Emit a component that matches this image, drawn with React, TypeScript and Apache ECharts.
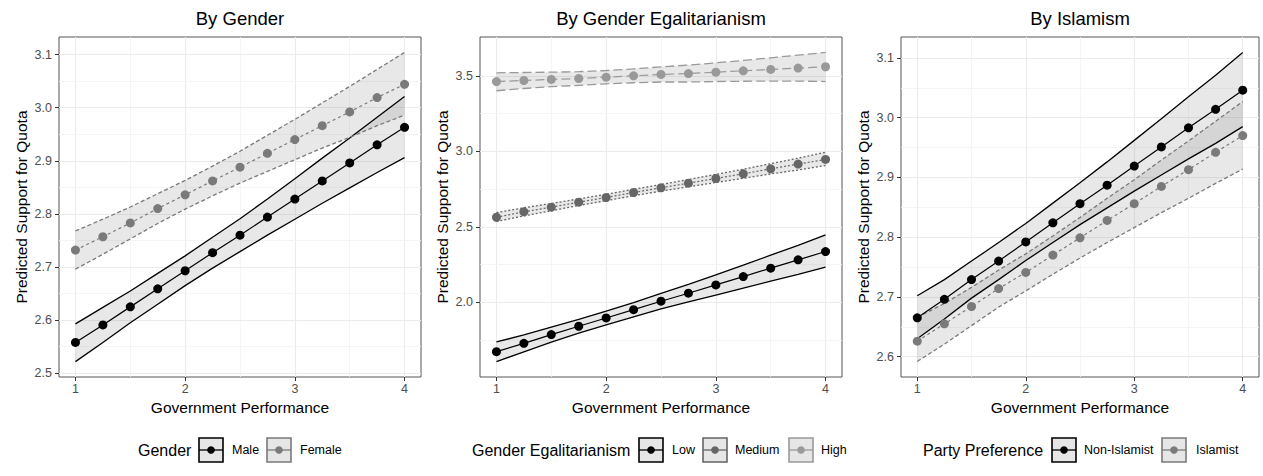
import React, { useEffect, useRef } from "react";
import * as echarts from "echarts";

// ---------- data ----------
const X = [1, 1.25, 1.5, 1.75, 2, 2.25, 2.5, 2.75, 3, 3.25, 3.5, 3.75, 4];
const xTicks = [1, 2, 3, 4];
const xMinor = [1.5, 2.5, 3.5];

// Panel 1: By Gender
const maleMean = [2.558, 2.591, 2.625, 2.659, 2.693, 2.727, 2.76, 2.794, 2.828, 2.862, 2.896, 2.93, 2.963];
const maleUpper = [2.593, 2.624, 2.655, 2.688, 2.721, 2.756, 2.791, 2.828, 2.866, 2.905, 2.943, 2.982, 3.021];
const maleLower = [2.522, 2.558, 2.595, 2.63, 2.665, 2.698, 2.729, 2.76, 2.79, 2.82, 2.849, 2.878, 2.906];
const femaleMean = [2.732, 2.757, 2.783, 2.81, 2.836, 2.862, 2.888, 2.914, 2.94, 2.966, 2.992, 3.019, 3.044];
const femaleUpper = [2.768, 2.79, 2.813, 2.838, 2.863, 2.89, 2.918, 2.948, 2.978, 3.009, 3.04, 3.072, 3.104];
const femaleLower = [2.696, 2.724, 2.753, 2.782, 2.809, 2.834, 2.858, 2.88, 2.902, 2.924, 2.944, 2.966, 2.986];
const p1Ticks = [2.5, 2.6, 2.7, 2.8, 2.9, 3.0, 3.1];
const p1Minor = [2.55, 2.65, 2.75, 2.85, 2.95, 3.05];

// Panel 2: By Gender Egalitarianism
const lowMean = [1.673, 1.728, 1.786, 1.841, 1.896, 1.951, 2.007, 2.06, 2.115, 2.17, 2.226, 2.281, 2.336];
const lowUpper = [1.737, 1.784, 1.836, 1.887, 1.941, 1.998, 2.059, 2.118, 2.182, 2.246, 2.312, 2.377, 2.446];
const lowLower = [1.607, 1.672, 1.736, 1.795, 1.851, 1.904, 1.956, 2.002, 2.048, 2.094, 2.14, 2.185, 2.232];
const medMean = [2.563, 2.599, 2.63, 2.663, 2.694, 2.727, 2.758, 2.789, 2.82, 2.851, 2.884, 2.915, 2.946];
const medUpper = [2.594, 2.626, 2.654, 2.685, 2.715, 2.748, 2.78, 2.813, 2.847, 2.881, 2.918, 2.954, 2.994];
const medLower = [2.535, 2.572, 2.606, 2.641, 2.673, 2.706, 2.736, 2.765, 2.793, 2.821, 2.85, 2.876, 2.906];
const highMean = [3.462, 3.469, 3.476, 3.482, 3.491, 3.5, 3.509, 3.515, 3.524, 3.533, 3.542, 3.551, 3.56];
const highUpper = [3.52, 3.522, 3.524, 3.527, 3.535, 3.546, 3.559, 3.571, 3.586, 3.602, 3.619, 3.637, 3.655];
const highLower = [3.401, 3.416, 3.428, 3.437, 3.447, 3.454, 3.459, 3.459, 3.462, 3.464, 3.465, 3.465, 3.462];
const p2Ticks = [2.0, 2.5, 3.0, 3.5];
const p2Minor = [1.75, 2.25, 2.75, 3.25];

// Panel 3: By Islamism
const nonIslMean = [2.665, 2.696, 2.729, 2.76, 2.792, 2.824, 2.856, 2.887, 2.919, 2.951, 2.983, 3.014, 3.046];
const nonIslUpper = [2.702, 2.729, 2.76, 2.791, 2.823, 2.857, 2.891, 2.926, 2.962, 2.998, 3.035, 3.071, 3.109];
const nonIslLower = [2.63, 2.663, 2.698, 2.729, 2.761, 2.791, 2.821, 2.849, 2.877, 2.904, 2.931, 2.957, 2.985];
const islMean = [2.626, 2.655, 2.684, 2.714, 2.741, 2.77, 2.799, 2.828, 2.856, 2.885, 2.913, 2.942, 2.97];
const islUpper = [2.666, 2.689, 2.716, 2.745, 2.772, 2.802, 2.833, 2.865, 2.896, 2.929, 2.961, 2.994, 3.027];
const islLower = [2.592, 2.621, 2.652, 2.683, 2.71, 2.738, 2.765, 2.791, 2.816, 2.841, 2.865, 2.89, 2.914];
const p3Ticks = [2.6, 2.7, 2.8, 2.9, 3.0, 3.1];
const p3Minor = [2.65, 2.75, 2.85, 2.95, 3.05];

const titles = ["By Gender", "By Gender Egalitarianism", "By Islamism"];

// ---------- styling ----------
const FONT = "'Liberation Sans', Arial, Helvetica, sans-serif";
const BLACK = "#000000";
const GREY = "#7a7a7a";
const MEDGREY = "#666666";
const LIGHTGREY = "#999999";
const FILL = "rgba(128,128,128,0.18)";

const grids = [
  { left: 59, top: 37, width: 362, height: 340 },
  { left: 480, top: 37, width: 362, height: 340 },
  { left: 901, top: 37, width: 358, height: 340 },
];
const yRanges = [
  [2.493, 3.133],
  [1.505, 3.757],
  [2.566, 3.135],
];

function ribbon(g: number, lower: number[], upper: number[]) {
  return {
    type: "custom",
    xAxisIndex: g,
    yAxisIndex: g,
    z: 1,
    silent: true,
    data: [[X[0], lower[0]]],
    renderItem: (_p: any, api: any) => {
      const pts: number[][] = [];
      for (let i = 0; i < X.length; i++) pts.push(api.coord([X[i], upper[i]]));
      for (let i = X.length - 1; i >= 0; i--) pts.push(api.coord([X[i], lower[i]]));
      return { type: "polygon", shape: { points: pts }, style: { fill: FILL, stroke: "none" } };
    },
  };
}

function bound(g: number, vals: number[], color: string, type: any, width = 1.3) {
  return {
    type: "line",
    xAxisIndex: g,
    yAxisIndex: g,
    z: 2,
    silent: true,
    symbol: "none",
    data: X.map((x, i) => [x, vals[i]]),
    lineStyle: { color, width, type },
  };
}

function mean(g: number, vals: number[], color: string, type: any) {
  return {
    type: "line",
    xAxisIndex: g,
    yAxisIndex: g,
    z: 3,
    silent: true,
    symbol: "circle",
    symbolSize: 9,
    showSymbol: true,
    data: X.map((x, i) => [x, vals[i]]),
    itemStyle: { color },
    lineStyle: { color, width: 1.2, type },
  };
}

function gridLines(g: number, yMajor: number[], yMinor: number[]) {
  const major = { color: "#ebebeb", width: 1.1, type: "solid" };
  const minor = { color: "#f2f2f2", width: 0.8, type: "solid" };
  const data: any[] = [];
  xTicks.forEach((v) => data.push({ xAxis: v, lineStyle: major }));
  xMinor.forEach((v) => data.push({ xAxis: v, lineStyle: minor }));
  yMajor.forEach((v) => data.push({ yAxis: v, lineStyle: major }));
  yMinor.forEach((v) => data.push({ yAxis: v, lineStyle: minor }));
  return {
    type: "line",
    xAxisIndex: g,
    yAxisIndex: g,
    z: 0,
    silent: true,
    data: [],
    markLine: {
      z: 0,
      silent: true,
      symbol: ["none", "none"],
      label: { show: false },
      emphasis: { disabled: true },
      animation: false,
      data,
    },
  };
}

function legend(titleText: string, titleX: number, keys: { label: string; color: string; boxX: number; textX: number }[]) {
  const cy = 450;
  const els: any[] = [
    {
      type: "text",
      x: titleX,
      y: cy,
      style: { text: titleText, fill: "#000", font: `16px ${FONT}`, verticalAlign: "middle", textVerticalAlign: "middle", align: "left" },
    },
  ];
  keys.forEach((k) => {
    els.push({
      type: "rect",
      shape: { x: k.boxX, y: cy - 12, width: 24, height: 24 },
      style: { fill: "#e6e6e6", stroke: k.color, lineWidth: 1.6 },
    });
    els.push({
      type: "line",
      shape: { x1: k.boxX, y1: cy, x2: k.boxX + 24, y2: cy },
      style: { stroke: k.color, lineWidth: 1.3 },
    });
    els.push({
      type: "circle",
      shape: { cx: k.boxX + 12, cy, r: 3.8 },
      style: { fill: k.color },
    });
    els.push({
      type: "text",
      x: k.textX,
      y: cy,
      style: { text: k.label, fill: "#000", font: `12.5px ${FONT}`, verticalAlign: "middle", textVerticalAlign: "middle", align: "left" },
    });
  });
  return els;
}

export default function App() {
  const ref = useRef<HTMLDivElement>(null);
  useEffect(() => {
    if (!ref.current) return;
    const chart = echarts.init(ref.current, null, { renderer: "svg" });
    const yTickSets = [p1Ticks, p2Ticks, p3Ticks];

    const xAxis = grids.map((_, g) => ({
      type: "value",
      gridIndex: g,
      min: 0.85,
      max: 4.15,
      splitLine: { show: false },
      axisLine: { show: false },
      axisTick: { show: true, customValues: xTicks, length: 4, lineStyle: { color: "#333", width: 1 } },
      axisLabel: {
        customValues: xTicks,
        margin: 5,
        color: "#4d4d4d",
        fontSize: 12.5,
        fontFamily: FONT,
        formatter: (v: number) => String(v),
      },
      name: "Government Performance",
      nameLocation: "middle",
      nameGap: 22,
      nameTextStyle: { color: "#000", fontSize: 15.5, fontFamily: FONT },
    }));
    const yAxis = grids.map((_, g) => ({
      type: "value",
      gridIndex: g,
      min: yRanges[g][0],
      max: yRanges[g][1],
      splitLine: { show: false },
      axisLine: { show: false },
      axisTick: { show: true, customValues: yTickSets[g], length: 4, lineStyle: { color: "#333", width: 1 } },
      axisLabel: {
        customValues: yTickSets[g],
        margin: 7,
        color: "#4d4d4d",
        fontSize: 12.5,
        fontFamily: FONT,
        formatter: (v: number) => v.toFixed(1),
      },
      name: "Predicted Support for Quota",
      nameLocation: "middle",
      nameGap: 30,
      nameRotate: 90,
      nameTextStyle: { color: "#000", fontSize: 15.5, fontFamily: FONT },
    }));

    const series: any[] = [
      gridLines(0, p1Ticks, p1Minor),
      gridLines(1, p2Ticks, p2Minor),
      gridLines(2, p3Ticks, p3Minor),
      // panel 1
      ribbon(0, maleLower, maleUpper),
      ribbon(0, femaleLower, femaleUpper),
      bound(0, maleUpper, BLACK, "solid"),
      bound(0, maleLower, BLACK, "solid"),
      bound(0, femaleUpper, GREY, [4, 2.5]),
      bound(0, femaleLower, GREY, [4, 2.5]),
      mean(0, maleMean, BLACK, "solid"),
      mean(0, femaleMean, GREY, [3, 3]),
      // panel 2
      ribbon(1, lowLower, lowUpper),
      ribbon(1, medLower, medUpper),
      ribbon(1, highLower, highUpper),
      bound(1, lowUpper, BLACK, "solid"),
      bound(1, lowLower, BLACK, "solid"),
      bound(1, medUpper, MEDGREY, [2, 2]),
      bound(1, medLower, MEDGREY, [2, 2]),
      bound(1, highUpper, LIGHTGREY, [9, 4]),
      bound(1, highLower, LIGHTGREY, [9, 4]),
      mean(1, lowMean, BLACK, "solid"),
      mean(1, medMean, MEDGREY, [2, 2]),
      mean(1, highMean, LIGHTGREY, [9, 4]),
      // panel 3
      ribbon(2, nonIslLower, nonIslUpper),
      ribbon(2, islLower, islUpper),
      bound(2, nonIslUpper, BLACK, "solid"),
      bound(2, nonIslLower, BLACK, "solid"),
      bound(2, islUpper, GREY, [4, 2.5]),
      bound(2, islLower, GREY, [4, 2.5]),
      mean(2, nonIslMean, BLACK, "solid"),
      mean(2, islMean, GREY, [3, 3]),
    ];

    const graphic = [
      ...legend("Gender", 138, [
        { label: "Male", color: BLACK, boxX: 199, textX: 232 },
        { label: "Female", color: GREY, boxX: 267, textX: 300 },
      ]),
      ...legend("Gender Egalitarianism", 472, [
        { label: "Low", color: BLACK, boxX: 639, textX: 672 },
        { label: "Medium", color: MEDGREY, boxX: 703, textX: 735 },
        { label: "High", color: LIGHTGREY, boxX: 789, textX: 821 },
      ]),
      ...legend("Party Preference", 923, [
        { label: "Non-Islamist", color: BLACK, boxX: 1052, textX: 1084 },
        { label: "Islamist", color: GREY, boxX: 1162, textX: 1196 },
      ]),
    ];

    chart.setOption({
      animation: false,
      backgroundColor: "#ffffff",
      title: titles.map((t, g) => ({
        text: t,
        left: grids[g].left + grids[g].width / 2,
        top: 9,
        textAlign: "center",
        padding: 0,
        textStyle: { color: "#000", fontSize: 18.5, fontWeight: "normal", fontFamily: FONT },
      })),
      grid: grids.map((gr) => ({
        ...gr,
        show: true,
        borderColor: "#555",
        borderWidth: 1,
        backgroundColor: "transparent",
        containLabel: false,
      })),
      xAxis,
      yAxis,
      series,
      graphic,
    });
    return () => chart.dispose();
  }, []);
  return <div ref={ref} style={{ position: "absolute", left: 0, top: 0, width: 1263, height: 476 }} />;
}
